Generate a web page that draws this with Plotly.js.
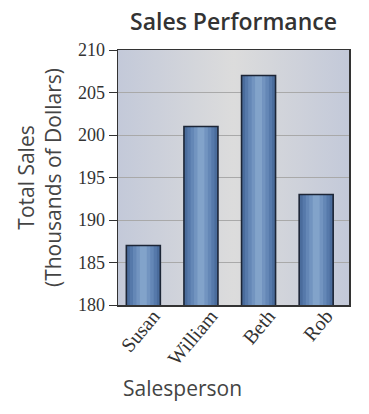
<!DOCTYPE html>
<html>
<head>
<meta charset="utf-8">
<script src="https://cdn.plot.ly/plotly-3.0.1.min.js"></script>
<style>html,body{margin:0;padding:0;background:#fff;}#chart{width:369px;height:414px;}</style>
</head>
<body>
<div id="chart"></div>
<script>
const salespeople = ["Susan", "William", "Beth", "Rob"];
const totalSales = [187, 201, 207, 193];
const yTicks = [180, 185, 190, 195, 200, 205, 210];

const bgSvg = '<svg xmlns="http://www.w3.org/2000/svg" width="200" height="100" preserveAspectRatio="none">' +
  '<defs><linearGradient id="g" x1="0" x2="1" y1="0" y2="0">' +
  '<stop offset="0" stop-color="#c3c9d9"/><stop offset="0.5" stop-color="#dcdcdc"/><stop offset="1" stop-color="#c3c9d9"/>' +
  '</linearGradient></defs><rect width="200" height="100" fill="url(#g)"/></svg>';
const bgSrc = 'data:image/svg+xml;base64,' + btoa(bgSvg);

const layers = [
  {w: 0.59, c: "#4a6c9c"},
  {w: 0.47, c: "#5679aa"},
  {w: 0.36, c: "#6487b6"},
  {w: 0.24, c: "#7294c0"},
  {w: 0.12, c: "#82a3ca"}
];
const traces = layers.map(l => ({
  type: "bar",
  x: salespeople,
  y: totalSales,
  width: l.w,
  marker: {color: l.c, line: {width: 0}},
  hoverinfo: "skip"
}));
// outline on top
traces.push({
  type: "bar", x: salespeople, y: totalSales, width: 0.59,
  marker: {color: "rgba(0,0,0,0)", line: {color: "#1c2536", width: 1.6}}, hoverinfo: "skip"
});

const layout = {
  width: 369, height: 414,
  margin: {l: 118, r: 20, t: 50, b: 109},
  paper_bgcolor: "#ffffff",
  plot_bgcolor: "rgba(0,0,0,0)",
  showlegend: false,
  barmode: "overlay",
  title: {
    text: "Sales Performance",
    font: {family: "Open Sans", size: 23, weight: 600, color: "#333333"},
    x: 0.5, xref: "paper", y: 0.947, yanchor: "middle"
  },
  xaxis: {
    type: "category",
    range: [-0.44, 3.57],
    tickangle: -50,
    tickfont: {family: "Liberation Serif", size: 20, color: "#333333"},
    ticks: "",
    ticklabelshift: 10,
    ticklabelstandoff: -10,
    showline: true, linecolor: "#333333", linewidth: 1.5, mirror: true,
    showgrid: false
  },
  yaxis: {
    range: [180, 210],
    tickvals: yTicks,
    ticks: "outside", ticklen: 8, tickcolor: "#333333", tickwidth: 1,
    tickfont: {family: "Liberation Serif", size: 18, color: "#333333"},
    showline: true, linecolor: "#333333", linewidth: 1.5, mirror: true,
    showgrid: true, gridcolor: "#a9a9a9", gridwidth: 1,
    zeroline: false,
    title: {
      text: "Total Sales<br>(Thousands of Dollars)",
      font: {family: "Open Sans", size: 21, color: "#444444"},
      standoff: 10
    }
  },
  images: [{
    source: bgSrc, xref: "paper", yref: "paper", x: 0, y: 1,
    sizex: 1, sizey: 1, sizing: "stretch", layer: "below", xanchor: "left", yanchor: "top"
  }],
  annotations: [{
    text: "Salesperson", xref: "paper", yref: "paper", x: 0.28, y: -0.324,
    xanchor: "center", yanchor: "middle", showarrow: false,
    font: {family: "Open Sans", size: 21, color: "#444444"}
  }]
};

Plotly.newPlot("chart", traces, layout, {displayModeBar: false, staticPlot: true});
</script>
</body>
</html>
